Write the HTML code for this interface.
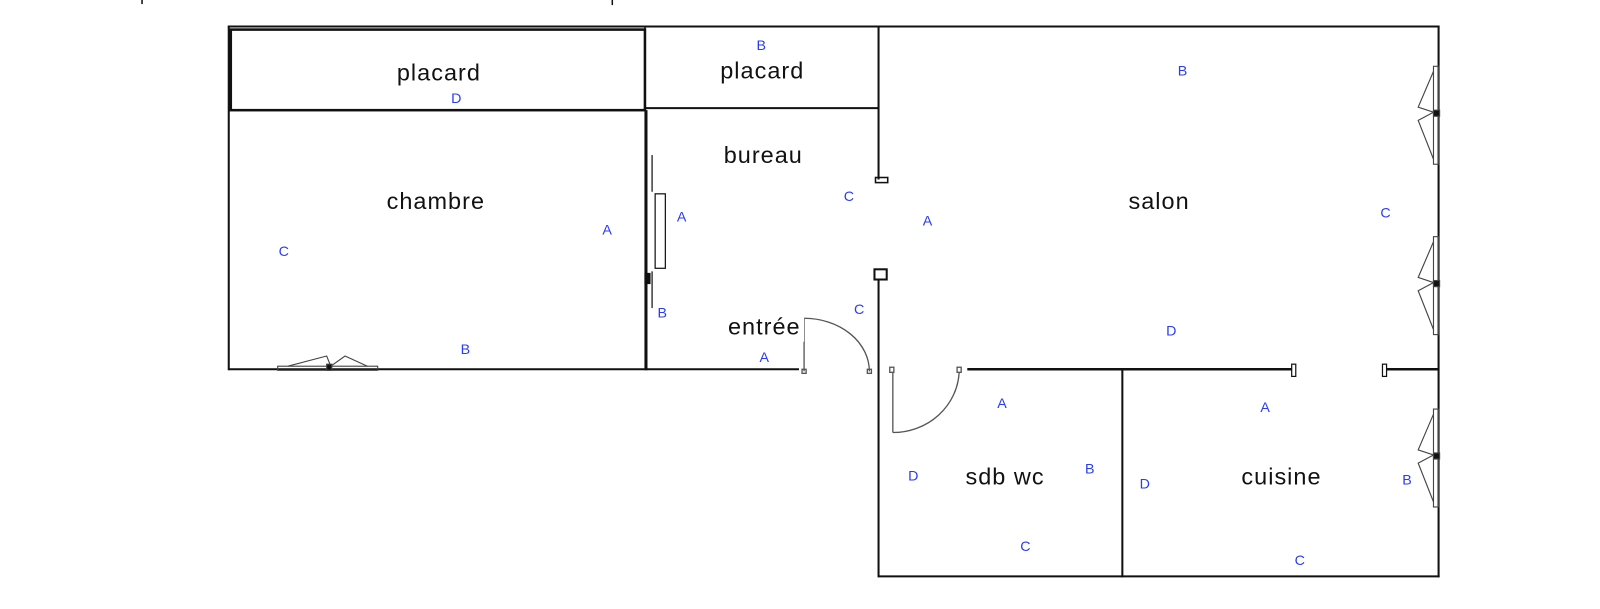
<!DOCTYPE html>
<html><head><meta charset="utf-8"><style>
html,body{margin:0;padding:0;background:#fff;width:1600px;height:609px;overflow:hidden}
svg{display:block}
.r{font-family:"Liberation Sans",sans-serif;font-size:23px;fill:#111;text-anchor:middle;letter-spacing:1px}
.b{font-family:"Liberation Sans",sans-serif;font-size:14px;fill:#2a3cf0;text-anchor:middle}
</style></head><body>
<svg width="1600" height="609" viewBox="0 0 1568 597" xmlns="http://www.w3.org/2000/svg">
<g stroke="#111" fill="none">
<line x1="139" y1="0" x2="139" y2="4" stroke-width="1.5"/>
<line x1="600" y1="0" x2="600" y2="5" stroke-width="1.5"/>
<line x1="223" y1="26" x2="1411" y2="26" stroke-width="2"/>
<rect x="226" y="29" width="406" height="79" stroke-width="2.5"/>
<line x1="224" y1="26" x2="224" y2="363" stroke-width="2"/>
<line x1="633" y1="108" x2="633" y2="363" stroke-width="3"/>
<line x1="224" y1="362" x2="783" y2="362" stroke-width="2"/>
<line x1="632" y1="106" x2="861" y2="106" stroke-width="2"/>
<line x1="632" y1="26" x2="632" y2="106" stroke-width="1.5"/>
<line x1="861" y1="26" x2="861" y2="176" stroke-width="2"/>
<rect x="858" y="174" width="12" height="5" stroke-width="1.5"/>
<rect x="857" y="264" width="12" height="10" stroke-width="2"/>
<line x1="861" y1="274" x2="861" y2="566" stroke-width="2"/>
<line x1="861" y1="565" x2="1411" y2="565" stroke-width="2"/>
<line x1="1410" y1="26" x2="1410" y2="566" stroke-width="2"/>
<line x1="1100" y1="362" x2="1100" y2="566" stroke-width="2"/>
<line x1="948" y1="362" x2="1266" y2="362" stroke-width="2.5"/>
<rect x="1266" y="357" width="4" height="12" stroke-width="1.2"/>
<rect x="1355" y="357" width="4" height="12" stroke-width="1.2"/>
<line x1="1359" y1="362" x2="1410" y2="362" stroke-width="2.5"/>
<line x1="639" y1="152" x2="639" y2="188" stroke-width="1.2"/>
<rect x="642" y="190" width="10" height="73" stroke-width="1.2"/>
<line x1="639" y1="266" x2="639" y2="302" stroke-width="1.2"/>
<rect x="632" y="268" width="5" height="10" fill="#111"/>
<g stroke="#555" stroke-width="1.3">
<polyline points="788,364 788,312"/>
<path d="M788,312 A64,52 0 0 1 852,364"/>
<rect x="786" y="362" width="4" height="4"/>
<rect x="850" y="362" width="4" height="4"/>
<rect x="872" y="360" width="4" height="5"/>
<rect x="938" y="360" width="4" height="5"/>
<polyline points="875,365 875,424"/>
<path d="M875,424 A65,62 0 0 0 940,365"/>
</g>
<g stroke="#444" stroke-width="1.1">
<rect x="272" y="359" width="98" height="4"/>
<polyline points="282,359 320,349 324,359"/>
<polyline points="360,359 338,349 324,359"/>
<rect x="320" y="357" width="5" height="6" fill="#111"/>
<g id="w">
<rect x="1405" y="65" width="5" height="96"/>
<polyline points="1405,70 1390,105 1405,110"/>
<polyline points="1405,156 1390,118 1405,110"/>
<rect x="1405" y="108" width="6" height="6" fill="#111"/>
</g>
<use href="#w" transform="translate(0,167)"/>
<use href="#w" transform="translate(0,336)"/>
</g>
</g>
<text class="r" x="430" y="79">placard</text>
<text class="r" x="747" y="77">placard</text>
<text class="r" x="748" y="160">bureau</text>
<text class="r" x="427" y="205">chambre</text>
<text class="r" x="1136" y="205">salon</text>
<text class="r" x="749" y="328">entrée</text>
<text class="r" x="985" y="475">sdb wc</text>
<text class="r" x="1256" y="475">cuisine</text>
<rect x="783" y="305" width="5" height="30" fill="#fff"/>
<g class="b">
<text class="b" x="746" y="49">B</text>
<text class="b" x="447" y="101">D</text>
<text class="b" x="1159" y="74">B</text>
<text class="b" x="832" y="197">C</text>
<text class="b" x="668" y="217">A</text>
<text class="b" x="909" y="221">A</text>
<text class="b" x="595" y="230">A</text>
<text class="b" x="278" y="251">C</text>
<text class="b" x="1358" y="213">C</text>
<text class="b" x="649" y="311">B</text>
<text class="b" x="842" y="308">C</text>
<text class="b" x="1148" y="329">D</text>
<text class="b" x="456" y="347">B</text>
<text class="b" x="749" y="355">A</text>
<text class="b" x="982" y="400">A</text>
<text class="b" x="1240" y="404">A</text>
<text class="b" x="895" y="471">D</text>
<text class="b" x="1068" y="464">B</text>
<text class="b" x="1122" y="479">D</text>
<text class="b" x="1379" y="475">B</text>
<text class="b" x="1005" y="540">C</text>
<text class="b" x="1274" y="554">C</text>
</g>
</svg>
</body></html>
